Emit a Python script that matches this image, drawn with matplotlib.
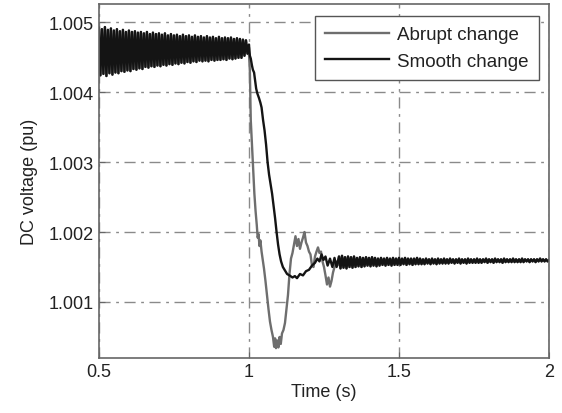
import matplotlib
matplotlib.use("Agg")
import matplotlib.pyplot as plt

plt.rcParams['font.family'] = ['Liberation Sans', 'DejaVu Sans']
plt.rcParams['font.size'] = 13

# steady oscillation before the change (both cases identical)
pre_t = [0.500, 0.505, 0.510, 0.515, 0.520, 0.525, 0.530, 0.535, 0.540, 0.545,
         0.550, 0.555, 0.560, 0.565, 0.570, 0.575, 0.580, 0.585, 0.590, 0.595,
         0.600, 0.605, 0.610, 0.615, 0.620, 0.625, 0.630, 0.635, 0.640, 0.645,
         0.650, 0.655, 0.660, 0.665, 0.670, 0.675, 0.680, 0.685, 0.690, 0.695,
         0.700, 0.705, 0.710, 0.715, 0.720, 0.725, 0.730, 0.735, 0.740, 0.745,
         0.750, 0.755, 0.760, 0.765, 0.770, 0.775, 0.780, 0.785, 0.790, 0.795,
         0.800, 0.805, 0.810, 0.815, 0.820, 0.825, 0.830, 0.835, 0.840, 0.845,
         0.850, 0.855, 0.860, 0.865, 0.870, 0.875, 0.880, 0.885, 0.890, 0.895,
         0.900, 0.905, 0.910, 0.915, 0.920, 0.925, 0.930, 0.935, 0.940, 0.945,
         0.950, 0.955, 0.960, 0.965, 0.970, 0.975, 0.980, 0.985, 0.990, 0.995]
pre_v = [1.00492, 1.00424, 1.00490, 1.00426, 1.00493, 1.00423, 1.00489, 1.00427, 1.00491, 1.00425,
         1.00488, 1.00428, 1.00490, 1.00427, 1.00487, 1.00430, 1.00489, 1.00429, 1.00486, 1.00431,
         1.00488, 1.00430, 1.00486, 1.00433, 1.00487, 1.00432, 1.00485, 1.00434, 1.00486, 1.00433,
         1.00484, 1.00436, 1.00486, 1.00435, 1.00483, 1.00437, 1.00485, 1.00436, 1.00483, 1.00438,
         1.00484, 1.00437, 1.00482, 1.00439, 1.00484, 1.00438, 1.00481, 1.00440, 1.00483, 1.00439,
         1.00481, 1.00441, 1.00482, 1.00440, 1.00480, 1.00442, 1.00482, 1.00441, 1.00480, 1.00443,
         1.00481, 1.00442, 1.00479, 1.00444, 1.00481, 1.00443, 1.00479, 1.00445, 1.00480, 1.00444,
         1.00478, 1.00445, 1.00480, 1.00444, 1.00478, 1.00446, 1.00479, 1.00445, 1.00477, 1.00446,
         1.00479, 1.00446, 1.00477, 1.00447, 1.00478, 1.00446, 1.00477, 1.00448, 1.00478, 1.00447,
         1.00476, 1.00448, 1.00477, 1.00449, 1.00476, 1.00449, 1.00475, 1.00452, 1.00474, 1.00455]

# transient after t = 1 s
abrupt_t = [1.000, 1.003, 1.006, 1.010, 1.014, 1.018, 1.022, 1.026, 1.029, 1.032,
            1.035, 1.038, 1.042, 1.046, 1.050, 1.055, 1.060, 1.065, 1.070, 1.075,
            1.080, 1.084, 1.087, 1.090, 1.094, 1.098, 1.102, 1.106, 1.110, 1.115,
            1.120, 1.125, 1.130, 1.135, 1.140, 1.145, 1.150, 1.155, 1.160, 1.165,
            1.170, 1.175, 1.180, 1.185, 1.190, 1.195, 1.200, 1.205, 1.210, 1.215,
            1.220, 1.225, 1.230, 1.235, 1.240, 1.245, 1.250, 1.255, 1.260, 1.265,
            1.270, 1.275, 1.280, 1.285, 1.290, 1.295]
abrupt_v = [1.00455, 1.00430, 1.00360, 1.00325, 1.00290, 1.00255, 1.00230, 1.00210, 1.00192, 1.00197,
            1.00180, 1.00188, 1.00172, 1.00160, 1.00148, 1.00130, 1.00110, 1.00090, 1.00072, 1.00060,
            1.00050, 1.00036, 1.00048, 1.00034, 1.00045, 1.00035, 1.00050, 1.00040, 1.00055, 1.00060,
            1.00070, 1.00090, 1.00110, 1.00140, 1.00162, 1.00170, 1.00182, 1.00194, 1.00180, 1.00190,
            1.00176, 1.00185, 1.00192, 1.00200, 1.00185, 1.00180, 1.00172, 1.00168, 1.00152, 1.00150,
            1.00165, 1.00172, 1.00178, 1.00170, 1.00172, 1.00158, 1.00150, 1.00138, 1.00125, 1.00135,
            1.00122, 1.00130, 1.00142, 1.00150, 1.00158, 1.00152]

smooth_t = [1.000, 1.003, 1.006, 1.010, 1.013, 1.017, 1.020, 1.024, 1.028, 1.033,
            1.038, 1.042, 1.047, 1.052, 1.057, 1.062, 1.067, 1.072, 1.077, 1.082,
            1.087, 1.092, 1.097, 1.102, 1.107, 1.113, 1.120, 1.127, 1.135, 1.145,
            1.153, 1.160, 1.170, 1.180, 1.190, 1.200, 1.210, 1.220, 1.228, 1.235,
            1.242, 1.248, 1.255, 1.262, 1.270, 1.278, 1.285, 1.292]
smooth_v = [1.00468, 1.00452, 1.00448, 1.00438, 1.00432, 1.00428, 1.00418, 1.00405, 1.00398, 1.00392,
            1.00385, 1.00378, 1.00360, 1.00345, 1.00325, 1.00300, 1.00282, 1.00268, 1.00255, 1.00238,
            1.00220, 1.00200, 1.00182, 1.00168, 1.00158, 1.00150, 1.00145, 1.00140, 1.00138, 1.00135,
            1.00137, 1.00134, 1.00140, 1.00138, 1.00144, 1.00146, 1.00152, 1.00156, 1.00162, 1.00158,
            1.00168, 1.00160, 1.00165, 1.00152, 1.00162, 1.00150, 1.00163, 1.00150]

# settled ripple (both cases identical)
post_t = [1.300, 1.305, 1.310, 1.315, 1.320, 1.325, 1.330, 1.335, 1.340, 1.345,
          1.350, 1.355, 1.360, 1.365, 1.370, 1.375, 1.380, 1.385, 1.390, 1.395,
          1.400, 1.405, 1.410, 1.415, 1.420, 1.425, 1.430, 1.435, 1.440, 1.445,
          1.450, 1.455, 1.460, 1.465, 1.470, 1.475, 1.480, 1.485, 1.490, 1.495,
          1.500, 1.505, 1.510, 1.515, 1.520, 1.525, 1.530, 1.535, 1.540, 1.545,
          1.550, 1.555, 1.560, 1.565, 1.570, 1.575, 1.580, 1.585, 1.590, 1.595,
          1.600, 1.605, 1.610, 1.615, 1.620, 1.625, 1.630, 1.635, 1.640, 1.645,
          1.650, 1.655, 1.660, 1.665, 1.670, 1.675, 1.680, 1.685, 1.690, 1.695,
          1.700, 1.705, 1.710, 1.715, 1.720, 1.725, 1.730, 1.735, 1.740, 1.745,
          1.750, 1.755, 1.760, 1.765, 1.770, 1.775, 1.780, 1.785, 1.790, 1.795,
          1.800, 1.805, 1.810, 1.815, 1.820, 1.825, 1.830, 1.835, 1.840, 1.845,
          1.850, 1.855, 1.860, 1.865, 1.870, 1.875, 1.880, 1.885, 1.890, 1.895,
          1.900, 1.905, 1.910, 1.915, 1.920, 1.925, 1.930, 1.935, 1.940, 1.945,
          1.950, 1.955, 1.960, 1.965, 1.970, 1.975, 1.980, 1.985, 1.990, 1.995, 2.000]
post_v = [1.00165, 1.00148, 1.00166, 1.00149, 1.00164, 1.00148, 1.00165, 1.00150, 1.00164, 1.00149,
          1.00165, 1.00150, 1.00163, 1.00151, 1.00164, 1.00150, 1.00163, 1.00151, 1.00164, 1.00152,
          1.00163, 1.00151, 1.00164, 1.00152, 1.00163, 1.00151, 1.00162, 1.00152, 1.00163, 1.00153,
          1.00162, 1.00152, 1.00163, 1.00153, 1.00162, 1.00152, 1.00163, 1.00153, 1.00162, 1.00153,
          1.00163, 1.00153, 1.00162, 1.00154, 1.00163, 1.00153, 1.00162, 1.00154, 1.00162, 1.00153,
          1.00162, 1.00154, 1.00163, 1.00154, 1.00162, 1.00154, 1.00161, 1.00154, 1.00162, 1.00155,
          1.00161, 1.00154, 1.00162, 1.00155, 1.00161, 1.00154, 1.00162, 1.00155, 1.00161, 1.00155,
          1.00162, 1.00155, 1.00161, 1.00155, 1.00162, 1.00156, 1.00161, 1.00155, 1.00161, 1.00156,
          1.00162, 1.00155, 1.00161, 1.00156, 1.00161, 1.00155, 1.00162, 1.00156, 1.00161, 1.00156,
          1.00161, 1.00156, 1.00162, 1.00156, 1.00161, 1.00156, 1.00161, 1.00157, 1.00162, 1.00156,
          1.00161, 1.00157, 1.00161, 1.00156, 1.00162, 1.00157, 1.00161, 1.00157, 1.00161, 1.00156,
          1.00162, 1.00157, 1.00161, 1.00157, 1.00161, 1.00157, 1.00162, 1.00157, 1.00161, 1.00157,
          1.00161, 1.00157, 1.00162, 1.00157, 1.00161, 1.00158, 1.00161, 1.00157, 1.00161, 1.00158,
          1.00161, 1.00157, 1.00161, 1.00158, 1.00162, 1.00158, 1.00161, 1.00158, 1.00161, 1.00158, 1.00160]

x_ticks = [0.5, 1, 1.5, 2]
x_labels = ['0.5', '1', '1.5', '2']
y_ticks = [1.001, 1.002, 1.003, 1.004, 1.005]
y_labels = ['1.001', '1.002', '1.003', '1.004', '1.005']

fig = plt.figure(figsize=(5.62, 4.14), dpi=100)
ax = fig.add_axes([0.176, 0.133, 0.801, 0.855])

ax.plot(pre_t + abrupt_t + post_t, pre_v + abrupt_v + post_v,
        color='#6e6e6e', linewidth=1.7, label='Abrupt change')
ax.plot(pre_t + smooth_t + post_t, pre_v + smooth_v + post_v,
        color='#141414', linewidth=1.7, label='Smooth change')

ax.set_xlim(0.5, 2)
ax.set_ylim(1.0002, 1.00526)
ax.set_xticks(x_ticks)
ax.set_xticklabels(x_labels)
ax.set_yticks(y_ticks)
ax.set_yticklabels(y_labels)
ax.tick_params(direction='in', color='#666666', length=4, labelcolor='#222222')
ax.grid(True, color='#8a8a8a', linestyle=(0, (8, 4, 2, 4)), linewidth=1)
for s in ax.spines.values():
    s.set_color('#666666')
    s.set_linewidth(1.2)

ax.set_xlabel('Time (s)', labelpad=2, color='#222222')
ax.set_ylabel('DC voltage (pu)', labelpad=8, color='#222222')

leg = ax.legend(loc='upper right', bbox_to_anchor=(0.978, 0.966), borderaxespad=0,
                fancybox=False, framealpha=1, edgecolor='#555555', handlelength=3.4,
                borderpad=0.55, labelspacing=0.5, handletextpad=0.45, fontsize=13.5)
leg.get_frame().set_linewidth(1.0)
for txt in leg.get_texts():
    txt.set_color('#222222')

fig.savefig('out.png', dpi=100)
